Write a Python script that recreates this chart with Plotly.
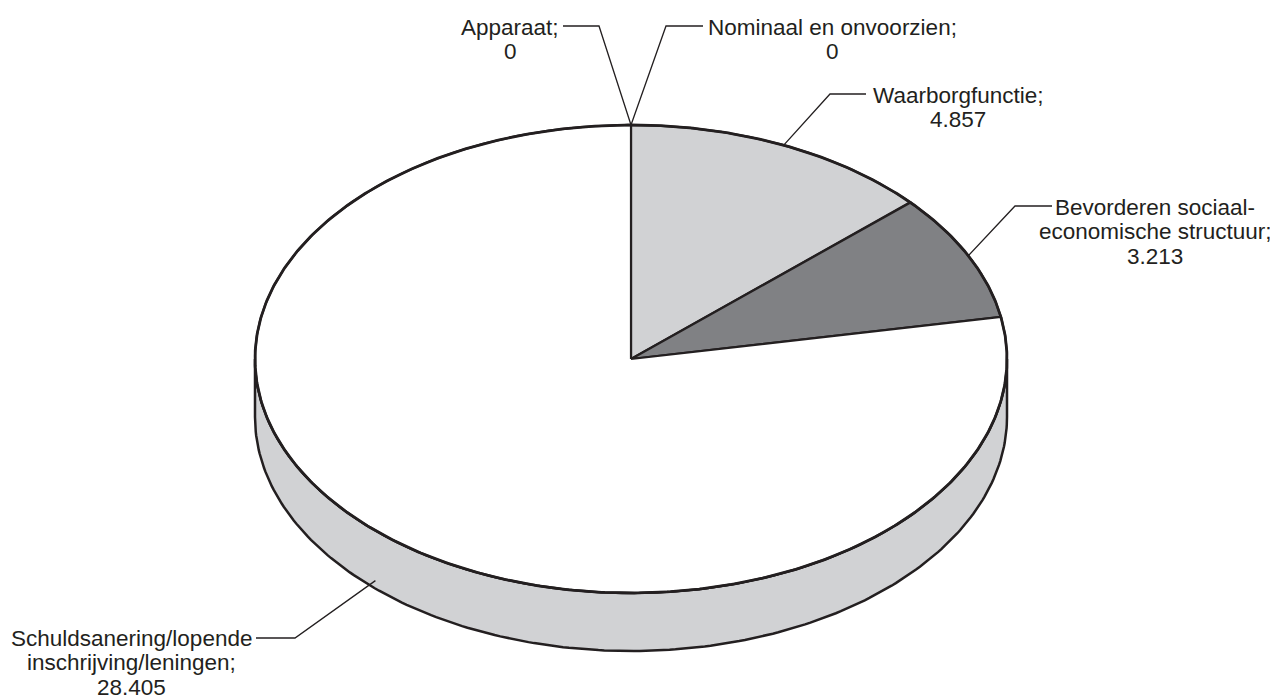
import numpy as np
import plotly.graph_objects as go

# ---- data ----
categories = ["Waarborgfunctie", "Bevorderen sociaal-economische structuur",
              "Schuldsanering/lopende inschrijving/leningen", "Apparaat",
              "Nominaal en onvoorzien"]
label_lines = [["Waarborgfunctie;"],
               ["Bevorderen sociaal-", "economische structuur;"],
               ["Schuldsanering/lopende", "inschrijving/leningen;"],
               ["Apparaat;"],
               ["Nominaal en onvoorzien;"]]
values = [4857, 3213, 28405, 0, 0]

# ---- styles / layout ----
top_colors = ["#d1d2d4", "#808184", "#ffffff", "#ffffff", "#ffffff"]
side_colors = ["#d1d2d4", "#808184", "#d1d2d4", "#d1d2d4", "#d1d2d4"]
CX, CY, RX, RY, DEPTH = 631, 359, 376, 234, 58
FONT = dict(family="Liberation Sans, Arial, sans-serif", size=22.5, color="#231f20")
LINE_STEP = 24.5
PAGE_OFFSET = 8  # default page body margin
# label block: (center x, first line y, elbow, line end)
label_layout = [
    (958, 95, (830, 94), (866, 94)),
    (1155, 207, (1015, 206), (1052, 206)),
    (131, 638, (295, 638), (256, 638)),
    (510, 27, (599, 26), (563, 26)),
    (832, 27, (666, 26), (703, 26)),
]

def pt(theta_deg, dy=0.0):
    t = np.radians(theta_deg)
    return CX + RX * np.sin(t), CY - RY * np.cos(t) + dy

def fmt(v):
    return f"{v:,}".replace(",", ".")

vals = np.array(values, dtype=float)
cum = np.concatenate([[0], np.cumsum(vals)]) / vals.sum() * 360.0

fig = go.Figure()

# side walls (front half, 90..270 deg)
for i in range(len(vals)):
    a0, a1 = max(cum[i], 90), min(cum[i + 1], 270)
    if a1 <= a0:
        continue
    th = np.linspace(a0, a1, 200)
    xt, yt = pt(th)
    xb, yb = pt(th[::-1], DEPTH)
    xs = np.concatenate([xt, xb, [xt[0]]])
    ys = np.concatenate([yt, yb, [yt[0]]])
    fig.add_trace(go.Scatter(x=xs, y=ys, mode="lines", fill="toself",
                             fillcolor=side_colors[i],
                             line=dict(color="#231f20", width=2.5),
                             hoverinfo="skip", showlegend=False))

# top slices
for i in range(len(vals)):
    if vals[i] <= 0:
        continue
    th = np.linspace(cum[i], cum[i + 1], 400)
    xa, ya = pt(th)
    xs = np.concatenate([[CX], xa, [CX]])
    ys = np.concatenate([[CY], ya, [CY]])
    fig.add_trace(go.Scatter(x=xs, y=ys, mode="lines", fill="toself",
                             fillcolor=top_colors[i],
                             line=dict(color="#231f20", width=2.2),
                             hoverinfo="skip", showlegend=False))

# top ellipse outline
th = np.linspace(0, 360, 721)
xo, yo = pt(th)
fig.add_trace(go.Scatter(x=xo, y=yo, mode="lines",
                         line=dict(color="#231f20", width=2.8),
                         hoverinfo="skip", showlegend=False))

# leader lines and labels
annotations = []
for i in range(len(vals)):
    mid = (cum[i] + cum[i + 1]) / 2
    if 90 < mid < 270:
        ax, ay = pt(mid + 3, DEPTH - 8)
    else:
        ax, ay = pt(mid)
    cx, ly, elbow, end = label_layout[i]
    fig.add_trace(go.Scatter(x=[ax, elbow[0], end[0]], y=[ay, elbow[1], end[1]],
                             mode="lines", line=dict(color="#231f20", width=1.3),
                             hoverinfo="skip", showlegend=False))
    lines = label_lines[i] + [fmt(values[i])]
    for k, txt in enumerate(lines):
        annotations.append(dict(x=cx, y=ly + k * LINE_STEP, xref="x", yref="y",
                                text=txt, showarrow=False, xanchor="center",
                                yanchor="middle", font=FONT))

fig.update_layout(
    width=1278, height=698, autosize=False,
    margin=dict(l=0, r=0, t=0, b=0),
    paper_bgcolor="white", plot_bgcolor="white",
    xaxis=dict(range=[PAGE_OFFSET, 1278 + PAGE_OFFSET], visible=False, fixedrange=True),
    yaxis=dict(range=[698 + PAGE_OFFSET, PAGE_OFFSET], visible=False, fixedrange=True),
    annotations=annotations,
    showlegend=False,
)

fig.write_html("out.html")
